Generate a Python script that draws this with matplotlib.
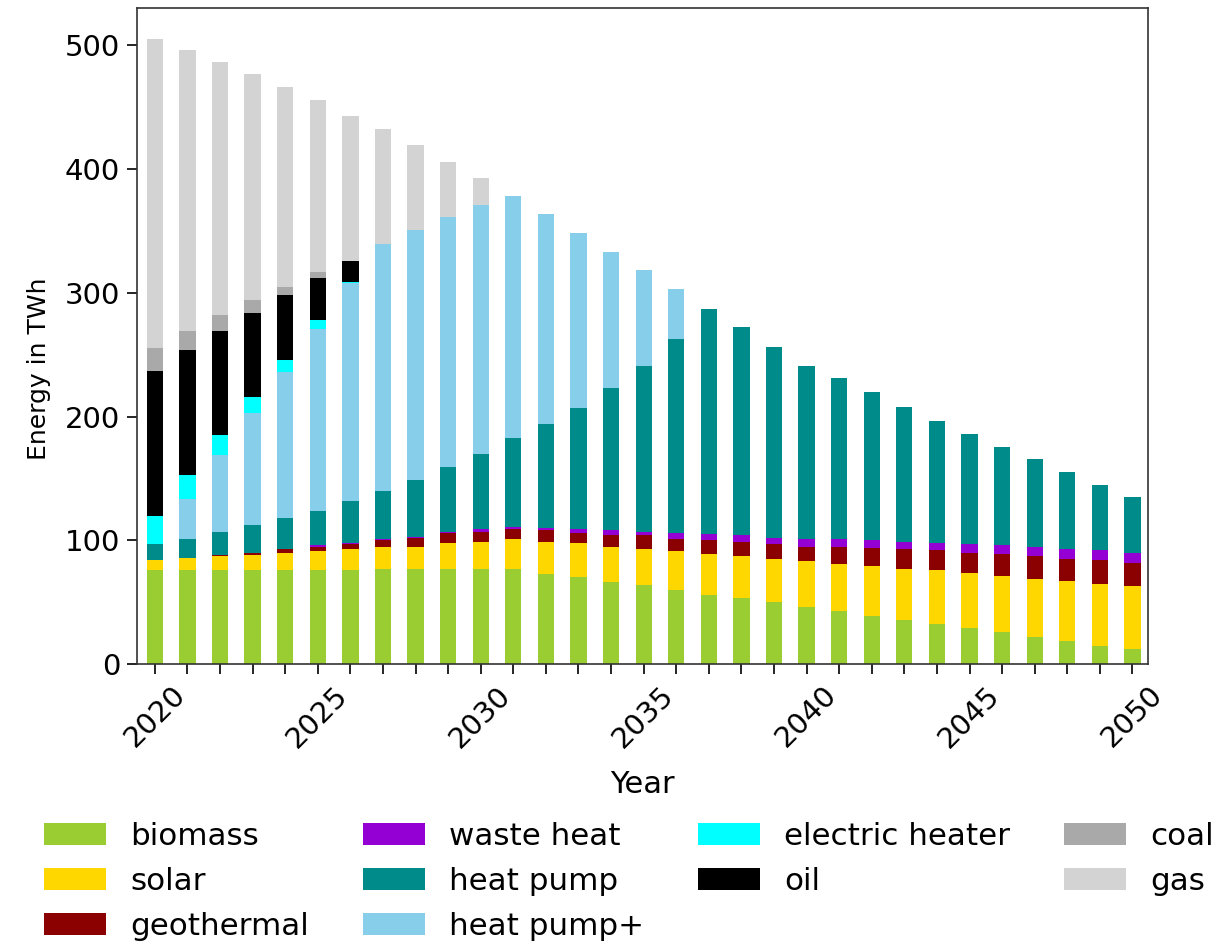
import numpy as np
from matplotlib import pyplot as plt

years = list(range(2020, 2051))

biomass = [76, 76, 76, 76, 76, 76, 76, 77, 77, 77, 77, 77, 73, 70, 66, 64,
           60, 56, 53, 50, 46, 43, 39, 36, 32, 29, 26, 22, 19, 15, 12]
solar = [8, 10, 11, 12, 14, 15, 17, 18, 18, 21, 22, 24, 26, 28, 29, 29,
         31, 33, 34, 35, 37, 38, 40, 41, 44, 45, 45, 47, 48, 50, 51]
geothermal = [0, 0, 1, 2, 3, 4, 4, 5, 7, 8, 8, 8, 9, 8, 9, 11,
              10, 11, 12, 12, 12, 14, 15, 16, 16, 16, 18, 18, 18, 19, 19]
waste_heat = [0, 0, 0, 0, 0, 1, 1, 1, 1, 1, 2, 2, 2, 3, 4, 3,
              5, 5, 5, 5, 6, 6, 6, 6, 6, 7, 7, 8, 8, 8, 8]
heat_pump = [13, 15, 19, 22, 25, 28, 34, 39, 46, 52, 61, 72, 84, 98, 115, 134,
             157, 182, 168, 154, 140, 130, 120, 109, 98, 89, 79, 71, 62, 53, 45]
heat_pump_plus = [0, 32, 62, 91, 118, 147, 176, 199, 202, 202, 201, 195, 170, 141, 110, 77,
                  40, 0, 0, 0, 0, 0, 0, 0, 0, 0, 0, 0, 0, 0, 0]
electric_heater = [23, 20, 16, 13, 10, 7, 1] + [0] * 24
oil = [117, 101, 84, 68, 52, 34, 17] + [0] * 24
coal = [18, 15, 13, 10, 7, 5] + [0] * 25
gas = [250, 227, 204, 183, 161, 139, 117, 93, 68, 45, 22] + [0] * 20

series = [
    ("biomass", biomass, "yellowgreen"),
    ("solar", solar, "gold"),
    ("geothermal", geothermal, "darkred"),
    ("waste heat", waste_heat, "darkviolet"),
    ("heat pump", heat_pump, "darkcyan"),
    ("heat pump+", heat_pump_plus, "skyblue"),
    ("electric heater", electric_heater, "aqua"),
    ("oil", oil, "black"),
    ("coal", coal, "darkgray"),
    ("gas", gas, "lightgray"),
]

plt.rcParams["font.family"] = "DejaVu Sans"
plt.rcParams["font.size"] = 21

fig = plt.figure(figsize=(12.12, 9.42), dpi=100)
ax = fig.add_axes([0.113, 0.295, 0.834, 0.6965])

bottom = np.zeros(len(years))
for label, values, color in series:
    ax.bar(years, values, 0.5, bottom=bottom, color=color, label=label)
    bottom += np.array(values)

ax.set_xlim(2019.45, 2050.47)
ax.set_ylim(0, 530)
ax.set_xticks(years)
ax.set_xticklabels([str(y) if y % 5 == 0 else "" for y in years], rotation=45)
ax.set_yticks([0, 100, 200, 300, 400, 500])
ax.tick_params(length=7, width=1.2, pad=5)
for s in ax.spines.values():
    s.set_linewidth(1.2)
    s.set_color("#333333")
ax.set_xlabel("Year", fontsize=22, labelpad=12)
ax.set_ylabel("Energy in TWh", fontsize=18)
ax.yaxis.set_label_coords(-0.085, 0.45)

fig.legend(loc="upper left", bbox_to_anchor=(0.026, 0.141), ncol=4,
           frameon=False, borderaxespad=0, labelspacing=0.52, columnspacing=1.72,
           handletextpad=0.8, fontsize=22.3)

fig.savefig("out.png")
